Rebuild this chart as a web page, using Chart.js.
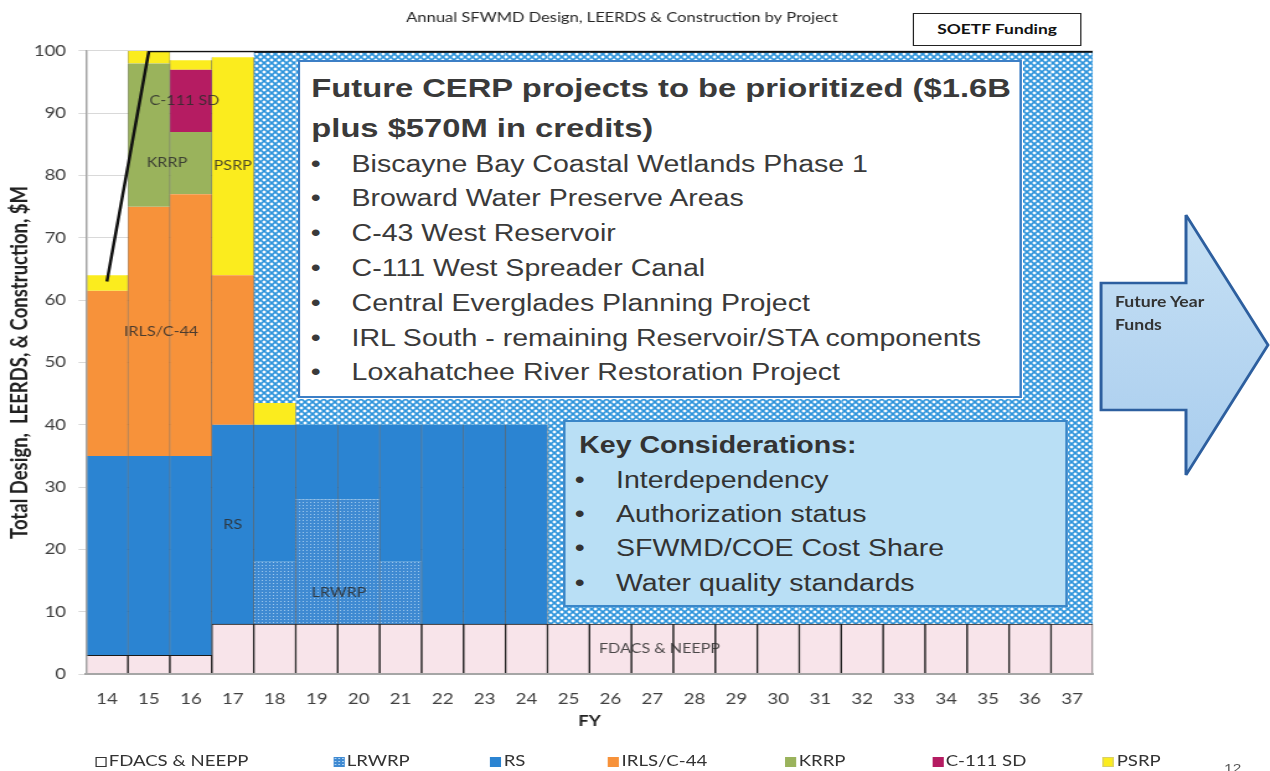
<!DOCTYPE html>
<html>
<head>
<meta charset="utf-8">
<script src="https://cdn.jsdelivr.net/npm/chart.js@4.4.1/dist/chart.umd.min.js"></script>
<style>
  html, body { margin:0; padding:0; background:#fff; overflow:hidden; width:1270px; height:771px; }
  /* the slide was stretched sideways, so the whole page is drawn 1024 wide and scaled */
  #stage { position:absolute; left:0; top:0; width:1024px; height:771px; transform-origin:0 0; transform:scaleX(1.2402); }
  #chartBox { position:absolute; left:0; top:0; width:1024px; height:771px; }
  .box { position:absolute; box-sizing:border-box; font-family:"Liberation Sans", Arial, sans-serif; color:#3a3a3a; }
  #cerp { left:240px; top:60px; width:584px; height:338px; background:#fff; border:2px solid #3c7fc6; }
  #cerp .head { position:absolute; left:9px; top:6px; font-size:26.4px; line-height:40px; font-weight:bold; white-space:nowrap; }
  #cerp .list { position:absolute; left:0; top:84.6px; }
  #keys { left:454px; top:420px; width:407px; height:187px; background:#b9dff5; border:2px solid #3a86c8; color:#333; }
  #keys .head { position:absolute; left:11px; top:8px; font-size:23px; line-height:30px; font-weight:bold; white-space:nowrap; }
  #keys .list { position:absolute; left:0; top:40.8px; }
  .item { position:relative; font-size:23px; white-space:nowrap; }
  #cerp .item { height:34.8px; line-height:34.8px; padding-left:41.5px; }
  #keys .item { height:34.3px; line-height:34.3px; padding-left:40.7px; }
  .item .dot { position:absolute; top:0; }
  #cerp .dot { left:8.5px; }
  #keys .dot { left:7.5px; }
  #soetf { position:absolute; left:736px; top:13px; width:136px; height:33px; box-sizing:border-box; border:1.5px solid #222;
           font:bold 14px Lato, sans-serif; color:#111; text-align:center; line-height:30px; background:#fff; }
  #arrow { position:absolute; left:0; top:0; width:1024px; height:771px; pointer-events:none; }
  #legend { position:absolute; left:0; top:751px; width:1024px; height:18px; font:15px Lato, sans-serif; color:#333; }
  #legend .lg { position:absolute; top:0; line-height:18px; white-space:nowrap; }
  #legend .sw { display:inline-block; width:9px; height:10px; margin-right:2px; vertical-align:-1px; box-sizing:border-box; }
  #page { position:absolute; left:987px; top:760px; font:12px Lato, sans-serif; color:#555; }
</style>
</head>
<body>
<div id="stage">
  <div id="chartBox"><canvas id="myChart"></canvas></div>

  <div id="cerp" class="box">
    <div class="head">Future CERP projects to be prioritized ($1.6B<br>plus $570M in credits)</div>
    <div class="list">
      <div class="item"><span class="dot">•</span>Biscayne Bay Coastal Wetlands Phase 1</div>
      <div class="item"><span class="dot">•</span>Broward Water Preserve Areas</div>
      <div class="item"><span class="dot">•</span>C-43 West Reservoir</div>
      <div class="item"><span class="dot">•</span>C-111 West Spreader Canal</div>
      <div class="item"><span class="dot">•</span>Central Everglades Planning Project</div>
      <div class="item"><span class="dot">•</span>IRL South - remaining Reservoir/STA components</div>
      <div class="item"><span class="dot">•</span>Loxahatchee River Restoration Project</div>
    </div>
  </div>

  <div id="keys" class="box">
    <div class="head">Key Considerations:</div>
    <div class="list">
      <div class="item"><span class="dot">•</span>Interdependency</div>
      <div class="item"><span class="dot">•</span>Authorization status</div>
      <div class="item"><span class="dot">•</span>SFWMD/COE Cost Share</div>
      <div class="item"><span class="dot">•</span>Water quality standards</div>
    </div>
  </div>

  <div id="soetf">SOETF Funding</div>

  <svg id="arrow" viewBox="0 0 1024 771">
    <defs>
      <linearGradient id="ag" x1="0" y1="0" x2="0" y2="1">
        <stop offset="0" stop-color="#c6e0f4"/>
        <stop offset="1" stop-color="#a9cdee"/>
      </linearGradient>
    </defs>
    <polygon points="887.8,283 956.3,283 956.3,215 1022.4,345 956.3,475 956.3,410 887.8,410"
             fill="url(#ag)" stroke="#2d5f9f" stroke-width="2.4" stroke-linejoin="miter"/>
    <text x="899" y="307" font-family="Lato" font-weight="bold" font-size="14.2" fill="#333">Future Year</text>
    <text x="899" y="330" font-family="Lato" font-weight="bold" font-size="14.2" fill="#333">Funds</text>
  </svg>

  <div id="legend"></div>
  <div id="page">12</div>
</div>

<script>
// FY categories
const years = ['14','15','16','17','18','19','20','21','22','23','24','25','26','27','28','29','30','31','32','33','34','35','36','37'];

// $M per project and year (stacked, bottom to top)
const fdacs = [3, 3, 3, 8, 8, 8, 8, 8, 8, 8, 8, 8, 8, 8, 8, 8, 8, 8, 8, 8, 8, 8, 8, 8];
const lrwrp = [null, null, null, null, 10, 20, 20, 10, null, null, null, null, null, null, null, null, null, null, null, null, null, null, null, null];
const rs    = [32, 32, 32, 32, 22, 12, 12, 22, 32, 32, 32, null, null, null, null, null, null, null, null, null, null, null, null, null];
const irls  = [26.5, 40, 42, 24, null, null, null, null, null, null, null, null, null, null, null, null, null, null, null, null, null, null, null, null];
const krrp  = [null, 23, 10, null, null, null, null, null, null, null, null, null, null, null, null, null, null, null, null, null, null, null, null, null];
const c111  = [null, null, 10, null, null, null, null, null, null, null, null, null, null, null, null, null, null, null, null, null, null, null, null, null];
const psrp  = [2.5, 2, 1.5, 35, 3.5, null, null, null, null, null, null, null, null, null, null, null, null, null, null, null, null, null, null, null];
// room left for future CERP projects (hatched)
const futureCerp = [null, null, null, null, 56.5, 60, 60, 60, 60, 60, 60, 92, 92, 92, 92, 92, 92, 92, 92, 92, 92, 92, 92, 92];
// SOETF funding line
const soetf = [63, 100, 100, 100, 100, 100, 100, 100, 100, 100, 100, 100, 100, 100, 100, 100, 100, 100, 100, 100, 100, 100, 100, 100];

const yTicks = { min: 0, max: 100, step: 10 };

// text put on the bars: which dataset / year, and a small sideways nudge in category widths
const segNotes = [
  { text: 'C-111 SD', ds: 5, i: 2, dx: -0.15 },
  { text: 'KRRP', ds: 4, i: 2, dx: -0.57 },
  { text: 'PSRP', ds: 6, i: 3, dx: 0 },
  { text: 'IRLS/C-44', ds: 3, i: 1, dx: 0.29 },
  { text: 'RS', ds: 2, i: 3, dx: 0 },
  { text: 'LRWRP', ds: 1, i: 4, dx: 1.53 },
  { text: 'FDACS & NEEPP', ds: 0, i: 13, dx: 0.17 }
];

function makeHatch() {
  let c = document.createElement('canvas');
  c.width = 6; c.height = 6;
  let g = c.getContext('2d');
  g.fillStyle = '#fff';
  g.fillRect(0, 0, 6, 6);
  g.strokeStyle = '#2f95dc';
  g.lineWidth = 1.7;
  g.beginPath();
  g.moveTo(-1, -1); g.lineTo(7, 7);
  g.moveTo(7, -1); g.lineTo(-1, 7);
  g.stroke();
  return g.createPattern(c, 'repeat');
}

function makeDots() {
  let c = document.createElement('canvas');
  c.width = 3; c.height = 3;
  let g = c.getContext('2d');
  g.fillStyle = '#3f8ad2';
  g.fillRect(0, 0, 3, 3);
  g.fillStyle = 'rgba(190,220,245,0.75)';
  g.fillRect(1, 1, 1, 1);
  return g.createPattern(c, 'repeat');
}

const divider = 'rgba(30,30,30,0.55)';
const sides = { left: 0.6, right: 0.6, top: 0, bottom: 0 };

const barLabels = {
  id: 'barLabels',
  afterDatasetsDraw(chart) {
    const ctx = chart.ctx;
    const xs = chart.scales.x;
    const step = xs.getPixelForValue(1) - xs.getPixelForValue(0);
    ctx.save();
    ctx.font = '13px Lato';
    ctx.fillStyle = 'rgba(45,45,45,0.85)';
    ctx.textAlign = 'center';
    ctx.textBaseline = 'middle';
    segNotes.forEach(n => {
      const el = chart.getDatasetMeta(n.ds).data[n.i];
      ctx.fillText(n.text, el.x + n.dx * step, (el.y + el.base) / 2);
    });
    ctx.restore();
  }
};

let ctx = document.getElementById('myChart').getContext('2d');

let chart = new Chart(ctx, {
  type: 'bar',
  data: {
    labels: years,
    datasets: [
      { label: 'FDACS & NEEPP', data: fdacs, backgroundColor: '#f8e4ea', borderColor: '#1a1a1a', borderWidth: { left: 1, right: 1, top: 1, bottom: 0 } },
      { label: 'LRWRP', data: lrwrp, backgroundColor: makeDots(), borderColor: divider, borderWidth: sides },
      { label: 'RS', data: rs, backgroundColor: '#2b84d2', borderColor: divider, borderWidth: sides },
      { label: 'IRLS/C-44', data: irls, backgroundColor: '#f7923a', borderColor: divider, borderWidth: sides },
      { label: 'KRRP', data: krrp, backgroundColor: '#9ab35c', borderColor: divider, borderWidth: sides },
      { label: 'C-111 SD', data: c111, backgroundColor: '#b51c62', borderColor: divider, borderWidth: sides },
      { label: 'PSRP', data: psrp, backgroundColor: '#fbec1e', borderColor: divider, borderWidth: sides },
      { label: 'Future CERP', data: futureCerp, backgroundColor: makeHatch(), borderColor: '#111', borderWidth: { left: 0, right: 0, top: 2, bottom: 0 } },
      { type: 'line', label: 'SOETF Funding', data: soetf, stack: 'soetf', borderColor: '#111', borderWidth: 2.5,
        pointRadius: 0, tension: 0, fill: false, order: -1 }
    ]
  },
  options: {
    responsive: true,
    maintainAspectRatio: false,
    animation: false,
    datasets: { bar: { barPercentage: 1, categoryPercentage: 1 } },
    layout: { padding: { left: 0, right: 21, top: 0, bottom: 41 } },
    plugins: {
      legend: { display: false },
      tooltip: { enabled: false },
      title: {
        display: true,
        text: 'Annual SFWMD Design, LEERDS & Construction by Project',
        font: { family: 'Lato', size: 13.3, weight: 'normal' },
        color: '#262626',
        padding: { top: 10, bottom: 25 }
      }
    },
    scales: {
      x: {
        stacked: true,
        grid: { display: false, drawTicks: false },
        border: { display: true, color: '#a6a6a6', width: 2, z: 1 },
        ticks: { color: '#404040', font: { family: 'Lato', size: 15 }, padding: 16, maxRotation: 0, autoSkip: false },
        title: { display: true, text: 'FY', color: '#222', font: { family: 'Lato', size: 15, weight: 'bold' }, padding: { top: 4, bottom: 0 } },
        afterFit(s) { s.height = 56; }
      },
      y: {
        stacked: true,
        min: yTicks.min,
        max: yTicks.max,
        ticks: { stepSize: yTicks.step, color: '#404040', font: { family: 'Lato', size: 15 }, padding: 10 },
        grid: { color: '#d9d9d9', tickLength: 6 },
        border: { color: '#a6a6a6', width: 1.5, z: 1 },
        title: { display: true, text: 'Total Design,  LEERDS, & Construction, $M', color: '#222',
                 font: { family: 'Lato', size: 18.5, weight: 'bold' }, padding: { top: 5, bottom: 0 } },
        afterFit(s) { s.width = 69.3; }
      },
      pad: {
        type: 'linear', axis: 'y', position: 'right', display: true,
        grid: { display: false, drawTicks: false }, border: { display: false }, ticks: { display: false },
        afterFit(s) { s.width = 121.7; }
      }
    }
  },
  plugins: [barLabels]
});

// legend under the chart, built from the datasets
const legendLeft = [76.6, 268.5, 395.1, 490.2, 633, 751.5, 889.4];
const swatchCss = {
  'FDACS & NEEPP': 'background:#fff;border:1px solid #333;',
  'LRWRP': 'background-color:#3f8ad2;background-image:radial-gradient(rgba(200,228,248,.8) 35%, transparent 40%);background-size:3px 3px;',
  'RS': 'background:#2b84d2;',
  'IRLS/C-44': 'background:#f7923a;',
  'KRRP': 'background:#9ab35c;',
  'C-111 SD': 'background:#b51c62;',
  'PSRP': 'background:#fbec1e;border:1px solid #d8cf6a;'
};
let legend = document.getElementById('legend');
chart.data.datasets.slice(0, 7).forEach((d, i) => {
  legend.innerHTML += `<span class="lg" style="left:${legendLeft[i]}px"><span class="sw" style="${swatchCss[d.label]}"></span>${d.label}</span>`;
});
</script>
</body>
</html>
